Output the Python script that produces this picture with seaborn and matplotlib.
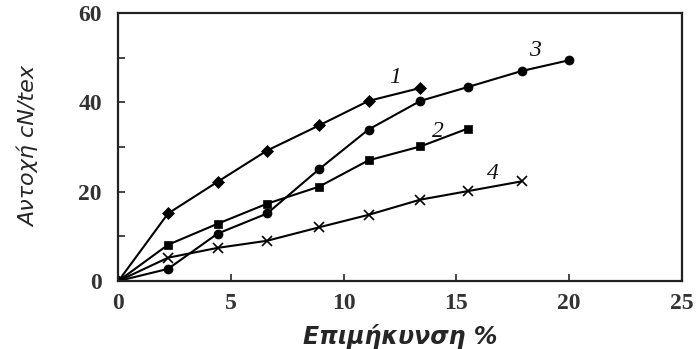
import matplotlib
matplotlib.use("Agg")
import matplotlib.pyplot as plt
import seaborn as sns
import pandas as pd

sns.set_style("ticks")

x1 = [0, 2.2, 4.4, 6.6, 8.9, 11.1, 13.4]
y1 = [0, 15.1, 22.2, 29.2, 34.8, 40.3, 43.2]
x2 = [0, 2.2, 4.4, 6.6, 8.9, 11.1, 13.4, 15.5]
y2 = [0, 8.1, 12.8, 17.3, 21.1, 27.0, 30.1, 34.1]
x3 = [0, 2.2, 4.4, 6.6, 8.9, 11.1, 13.4, 15.5, 17.9, 20.0]
y3 = [0, 2.7, 10.6, 15.1, 25.0, 33.9, 40.3, 43.4, 47.0, 49.4]
x4 = [0, 2.2, 4.4, 6.6, 8.9, 11.1, 13.4, 15.5, 17.9]
y4 = [0, 5.2, 7.4, 9.0, 12.0, 14.8, 18.2, 20.1, 22.3]
labels = ["1", "2", "3", "4"]
label_pos = [(12.3, 45.5), (14.2, 33.5), (18.5, 51.5), (16.6, 24.0)]
xticks = [0, 5, 10, 15, 20, 25]
yticks = [0, 20, 40, 60]
yminor = [10, 30, 50]

fig = plt.figure(figsize=(6.97, 3.49), dpi=100)
ax = fig.add_axes([0.170, 0.195, 0.808, 0.768])

series = [(x1, y1, "D", 6), (x2, y2, "s", 6), (x3, y3, "o", 6.5), (x4, y4, "x", 6.5)]
for xs, ys, m, ms in series:
    df = pd.DataFrame({"x": xs, "y": ys})
    sns.lineplot(data=df, x="x", y="y", ax=ax, color="black", lw=1.5,
                 marker=m, markersize=ms, markeredgecolor="black",
                 markerfacecolor="black", markeredgewidth=1.2 if m == "x" else 0.5,
                 estimator=None, sort=False)

for lab, (lx, ly) in zip(labels, label_pos):
    ax.text(lx, ly, lab, fontsize=17, fontstyle="italic", family="Liberation Serif",
            color="#111111", ha="center", va="center")

ax.set_xlim(0, 25)
ax.set_ylim(0, 60)
tickfont = dict(fontsize=17, fontfamily="Liberation Serif", fontweight="bold", color="#333333")
ax.set_xticks(xticks)
ax.set_xticklabels([str(v) for v in xticks], **tickfont)
ax.set_yticks(yticks)
ax.set_yticklabels([str(v) for v in yticks], **tickfont)
ax.set_yticks(yminor, minor=True)
ax.tick_params(axis="both", which="both", direction="in", length=5, width=1.2)
ax.tick_params(axis="x", pad=9)
ax.tick_params(axis="y", pad=12)
for s in ax.spines.values():
    s.set_linewidth(1.6)
    s.set_color("#222222")

ax.set_xlabel("Επιμήκυνση %", fontsize=17, fontweight="bold", fontstyle="italic",
              family=["DejaVu Sans"], labelpad=7)
ax.set_ylabel("Αντοχή cN/tex", fontsize=16, fontstyle="italic",
              family=["DejaVu Sans"], labelpad=28)

fig.savefig("out.png", dpi=100)
